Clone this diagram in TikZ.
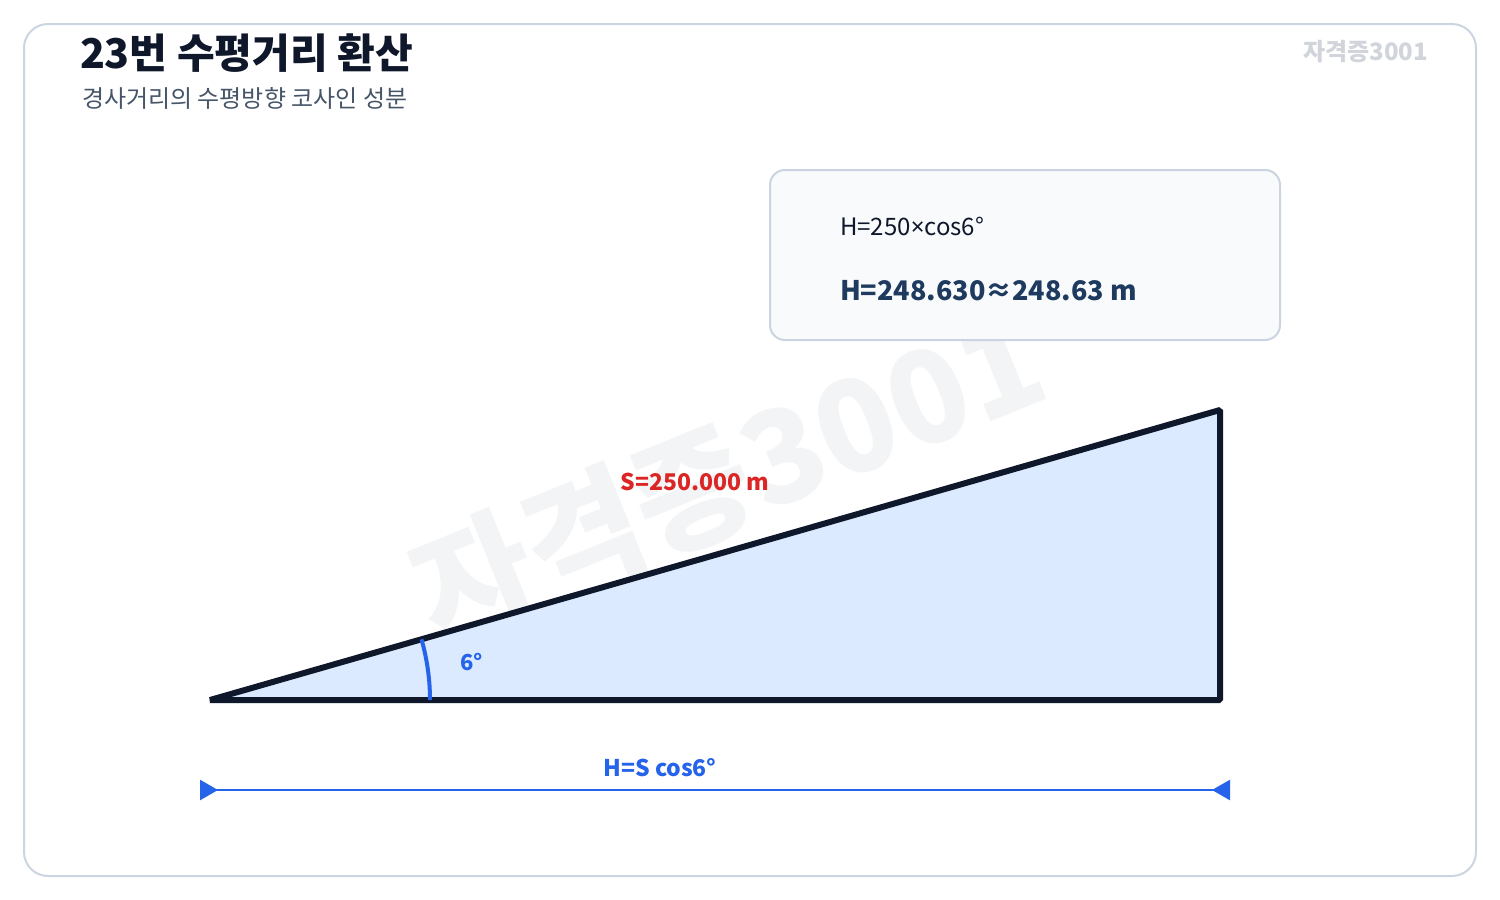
\documentclass[tikz,border=0pt]{standalone}
\usepackage{fontspec}
\setmainfont{Noto Sans CJK KR}
\newfontfamily\latin{Noto Sans}
\usetikzlibrary{arrows.meta}
\definecolor{frame}{HTML}{CBD5E1}
\definecolor{ink}{HTML}{0F172A}
\definecolor{subt}{HTML}{475569}
\definecolor{wm}{HTML}{D1D5DB}
\definecolor{wmbig}{HTML}{F3F4F6}
\definecolor{boxfill}{HTML}{F8FAFC}
\definecolor{navy}{HTML}{1E3A5F}
\definecolor{tri}{HTML}{DBEAFE}
\definecolor{blue}{HTML}{2563EB}
\definecolor{red}{HTML}{DC2626}
\tikzset{
  txt/.style={inner sep=0pt, outer sep=0pt},
  dimarrows/.style={{Triangle[reversed,length=18pt,width=20pt]}-{Triangle[reversed,length=18pt,width=20pt]}},
}
\begin{document}
\begin{tikzpicture}[x=1pt,y=-1pt]
\useasboundingbox (0,0) rectangle (1500,900);
% frame
\draw[frame, line width=2pt, rounded corners=24pt, fill=white] (24,24) rectangle (1476,876);
% titles
\node[txt, anchor=base west, text=ink, font=\fontsize{41}{44}\selectfont\bfseries] (title) at (80,68) {23번 수평거리 환산};
\node[txt, anchor=base west, text=subt, font=\fontsize{24}{26}\selectfont] (subtitle) at (82,107) {경사거리의 수평방향 코사인 성분};
\node[txt, anchor=base east, text=wm, font=\fontsize{24}{26}\selectfont\bfseries] (brand) at (1428,60) {자격증3001};
% big watermark
\node[txt, text=wmbig, rotate=22, font=\fontsize{128}{130}\selectfont\bfseries] (wmark) at (728,476) {자격증3001};
% formula box
\draw[frame, line width=2pt, rounded corners=15pt, fill=boxfill] (770,170) rectangle (1280,340);
\node[txt, anchor=base west, text=ink, font=\fontsize{24}{26}\selectfont] (f1) at (840,235) {H=250{\latin ×}cos6°};
\node[txt, anchor=base west, text=navy, font=\fontsize{27}{30}\selectfont\bfseries] (f2) at (840,300) {H=248.630≈248.63 m};
% triangle
\coordinate (A) at (210,700);
\coordinate (B) at (1220,700);
\coordinate (C) at (1220,410);
\draw[ink, line width=6pt, fill=tri, line join=bevel] (A) -- (B) -- (C) -- cycle;
% angle arc
\draw[blue, line width=4pt] ([shift={(0:220pt)}]A) arc[start angle=0, end angle=16, radius=220pt];
\node[txt, anchor=base west, text=blue, font=\fontsize{22}{24}\selectfont\bfseries] (ang) at (460,670) {6°};
\node[txt, anchor=base, text=red, font=\fontsize{23}{24}\selectfont\bfseries] (slabel) at (695,490) {S=250.000 m};
% dimension line
\coordinate (DL) at (200,790);
\coordinate (DR) at (1230,790);
\draw[blue, line width=2.5pt, dimarrows] (DL) -- (DR);
\node[txt, anchor=base, text=blue, font=\fontsize{23}{24}\selectfont\bfseries] (hlabel) at (660,776) {H=S cos6°};
\end{tikzpicture}
\end{document}
